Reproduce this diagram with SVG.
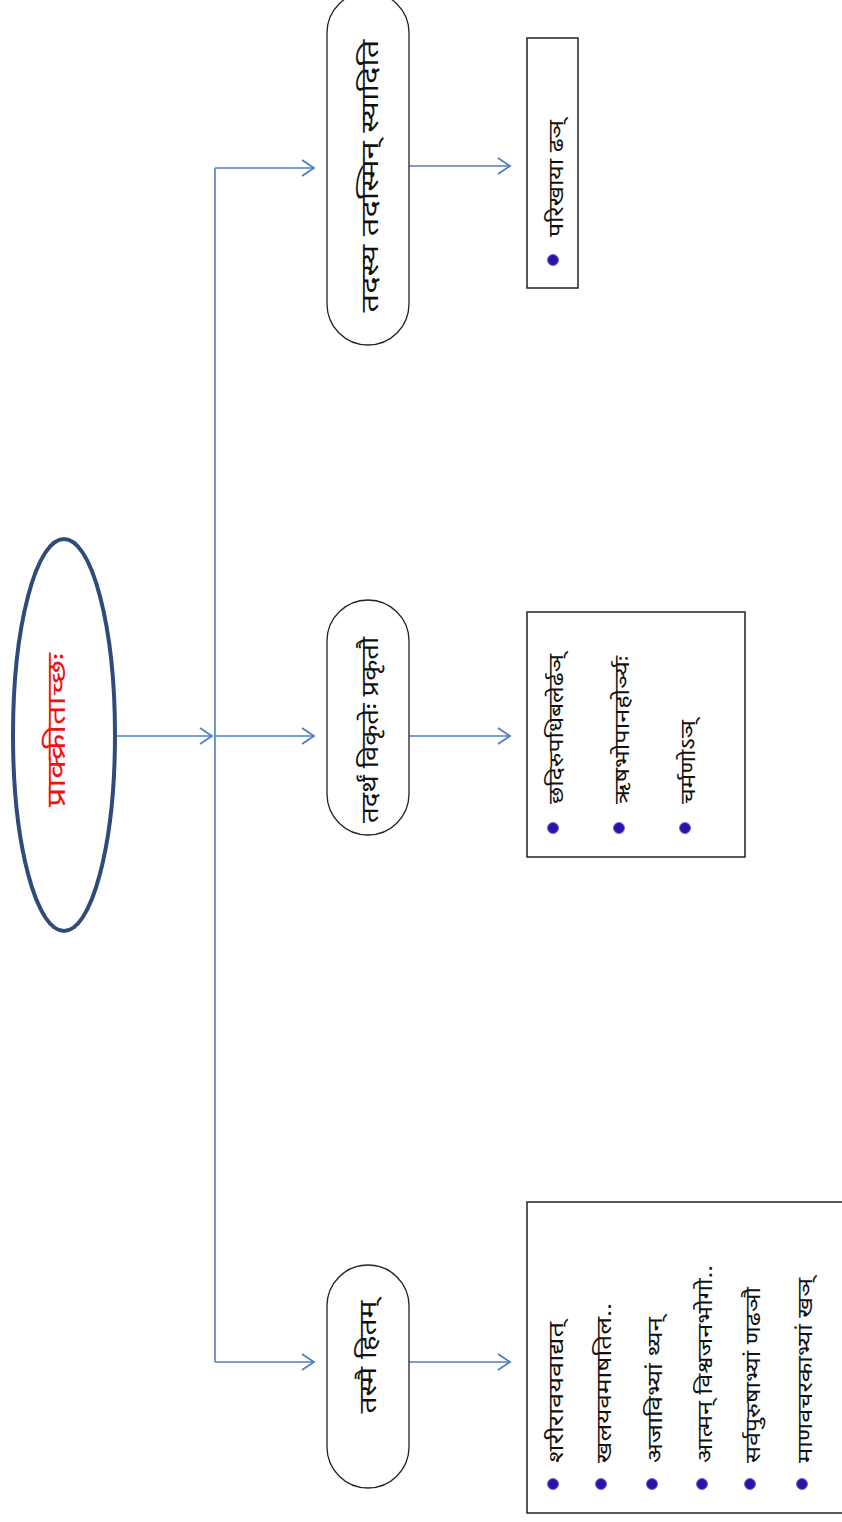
<svg xmlns="http://www.w3.org/2000/svg" width="842" height="1522" viewBox="0 0 842 1522">
<style>
.bg{fill:#ffffff}
.conn{fill:none;stroke:#4f7fc0;stroke-width:1.6}
.pill{fill:#ffffff;stroke:#222222;stroke-width:1.3}
.box{fill:#ffffff;stroke:#222222;stroke-width:1.5}
.t{font-family:"Noto Sans Devanagari","Noto Sans","Lohit Devanagari",sans-serif;fill:#111111}
.node{font-size:24px;text-anchor:middle}
.item{font-size:20px}
.root{font-size:26px;fill:#ee1111;text-anchor:middle}
.bul{fill:#2a14a6;stroke:#7a66e0;stroke-width:1}
</style>
<defs>
<marker id="arr" markerUnits="userSpaceOnUse" markerWidth="16" markerHeight="20" refX="13" refY="9" orient="auto">
<path d="M1,1 L13,9 L1,17" fill="none" stroke="#4f7fc0" stroke-width="1.8"/>
</marker>
</defs>
<rect class="bg" x="0" y="0" width="842" height="1522"/>
<g id="connectors">
<path class="conn" d="M116,736 L212,736" marker-end="url(#arr)"/>
<path class="conn" d="M215,168 L215,1362"/>
<path class="conn" d="M215,168 L314,168" marker-end="url(#arr)"/>
<path class="conn" d="M215,736 L314,736" marker-end="url(#arr)"/>
<path class="conn" d="M215,1362 L314,1362" marker-end="url(#arr)"/>
<path class="conn" d="M409,166 L510,166" marker-end="url(#arr)"/>
<path class="conn" d="M409,736 L510,736" marker-end="url(#arr)"/>
<path class="conn" d="M409,1362 L510,1362" marker-end="url(#arr)"/>
</g>
<g id="root">
<ellipse cx="64" cy="735" rx="51" ry="196" fill="#ffffff" stroke="#2f4b7c" stroke-width="4"/>
<text class="t root" transform="translate(65,730) rotate(-90)" textLength="154" lengthAdjust="spacingAndGlyphs">प्राक्क्रीताच्छः</text>
</g>
<g id="n1">
<rect class="pill" x="327" y="-8" width="82" height="353" rx="41" ry="41"/>
<text class="t node" transform="translate(378,176) rotate(-90)" textLength="273" lengthAdjust="spacingAndGlyphs">तदस्य तदस्मिन् स्यादिति</text>
</g>
<g id="n2">
<rect class="pill" x="327" y="600" width="82" height="235" rx="41" ry="41"/>
<text class="t node" transform="translate(378,730) rotate(-90)" textLength="186" lengthAdjust="spacingAndGlyphs">तदर्थं विकृतेः प्रकृतौ</text>
</g>
<g id="n3">
<rect class="pill" x="327" y="1265" width="82" height="223" rx="41" ry="41"/>
<text class="t node" transform="translate(376,1357) rotate(-90)" textLength="113" lengthAdjust="spacingAndGlyphs">तस्मै हितम्</text>
</g>
<g id="b1">
<rect class="box" x="527" y="38" width="51" height="250"/>
<circle class="bul" cx="553" cy="260" r="5.5"/>
<text class="t item" transform="translate(563,237) rotate(-90)" textLength="117" lengthAdjust="spacingAndGlyphs">परिखाया ढञ्</text>
</g>
<g id="b2">
<rect class="box" x="527" y="612" width="218" height="245"/>
<circle class="bul" cx="553" cy="828" r="5.5"/>
<text class="t item" transform="translate(563,804) rotate(-90)" textLength="150" lengthAdjust="spacingAndGlyphs">छदिरुपधिबलेर्ढञ्</text>
<circle class="bul" cx="619" cy="828" r="5.5"/>
<text class="t item" transform="translate(629,804) rotate(-90)" textLength="148" lengthAdjust="spacingAndGlyphs">ऋषभोपानहोर्ञ्यः</text>
<circle class="bul" cx="685" cy="828" r="5.5"/>
<text class="t item" transform="translate(695,804) rotate(-90)" textLength="84" lengthAdjust="spacingAndGlyphs">चर्मणोऽञ्</text>
</g>
<g id="b3">
<rect class="box" x="527" y="1202" width="330" height="311"/>
<circle class="bul" cx="553" cy="1484" r="5.5"/>
<text class="t item" transform="translate(563,1463) rotate(-90)" textLength="141" lengthAdjust="spacingAndGlyphs">शरीरावयवाद्यत्</text>
<circle class="bul" cx="601" cy="1484" r="5.5"/>
<text class="t item" transform="translate(611,1463) rotate(-90)" textLength="160" lengthAdjust="spacingAndGlyphs">खलयवमाषतिल..</text>
<circle class="bul" cx="652" cy="1484" r="5.5"/>
<text class="t item" transform="translate(662,1463) rotate(-90)" textLength="146" lengthAdjust="spacingAndGlyphs">अजाविभ्यां थ्यन्</text>
<circle class="bul" cx="702" cy="1484" r="5.5"/>
<text class="t item" transform="translate(712,1463) rotate(-90)" textLength="198" lengthAdjust="spacingAndGlyphs">आत्मन् विश्वजनभोगो..</text>
<circle class="bul" cx="750" cy="1484" r="5.5"/>
<text class="t item" transform="translate(760,1463) rotate(-90)" textLength="176" lengthAdjust="spacingAndGlyphs">सर्वपुरुषाभ्यां णढञौ</text>
<circle class="bul" cx="802" cy="1484" r="5.5"/>
<text class="t item" transform="translate(812,1463) rotate(-90)" textLength="185" lengthAdjust="spacingAndGlyphs">माणवचरकाभ्यां खञ्</text>
</g>
</svg>
